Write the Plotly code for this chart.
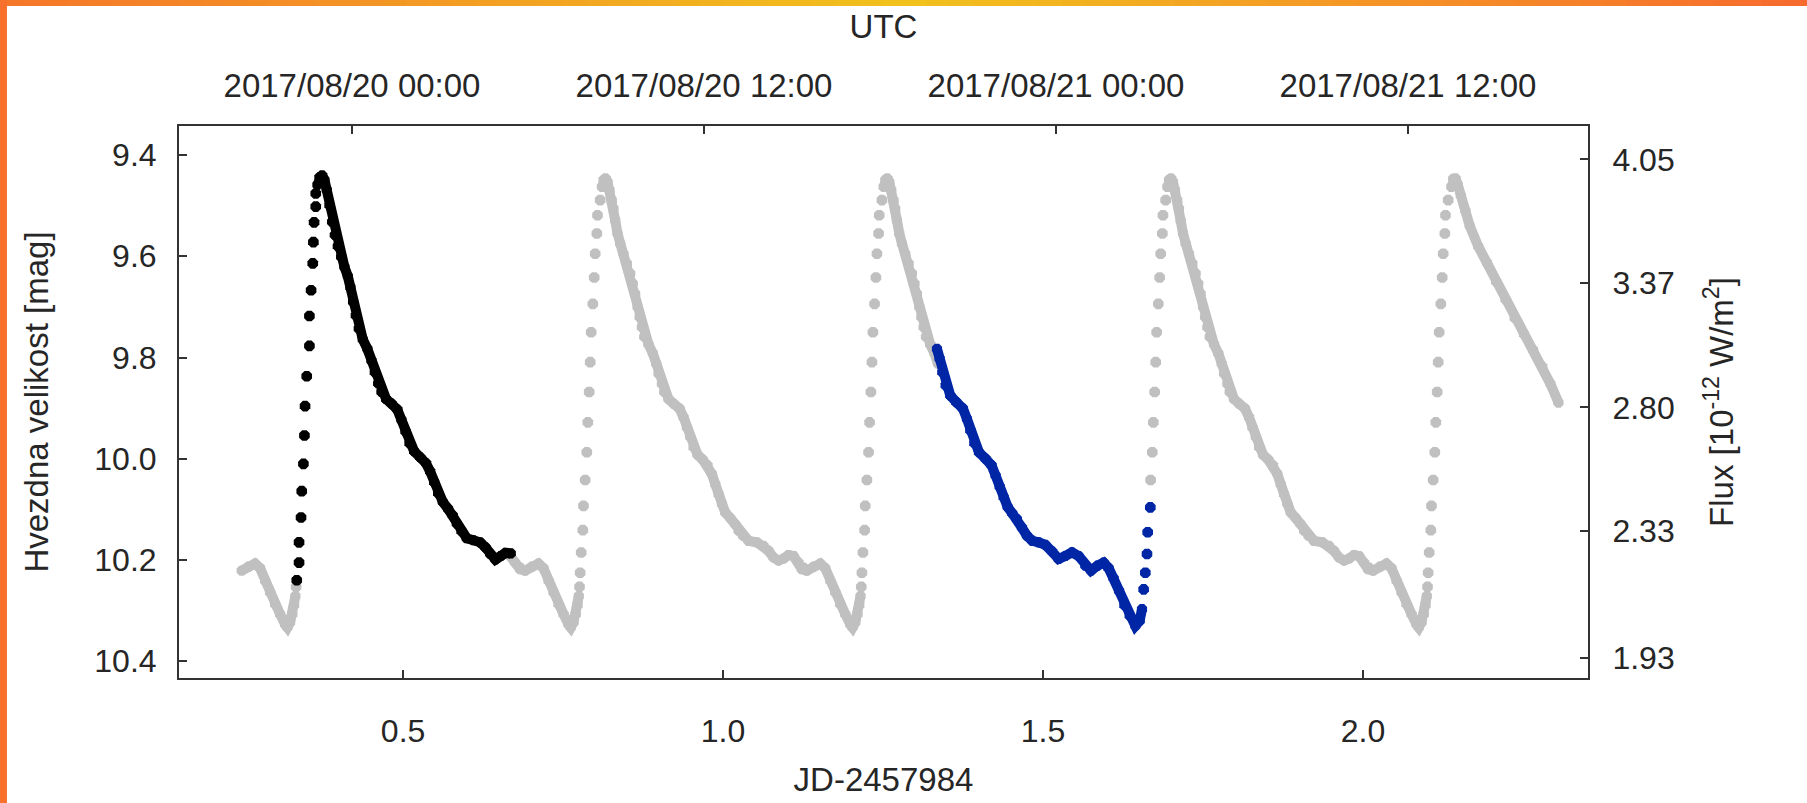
import plotly.graph_objects as go

# ---------------- data ----------------
# One pulsation cycle of the light-curve model, offsets (days) from maximum light
tpl_pre_dt = [-0.1329, -0.1251, -0.1146, -0.1042, -0.0964, -0.0886, -0.0808, -0.0730,
              -0.0651, -0.0573, -0.0537, -0.0495, -0.0459, -0.0432, -0.0412]
tpl_pre_mag = [10.218, 10.221, 10.213, 10.207, 10.216, 10.241, 10.264, 10.287,
               10.307, 10.327, 10.333, 10.323, 10.307, 10.289, 10.271]
tpl_dot_dt = [-0.0401, -0.0391, -0.0375, -0.0349, -0.0339, -0.0313, -0.0287, -0.0271,
              -0.0250, -0.0234, -0.0219, -0.0193, -0.0172, -0.0156, -0.0130, -0.0120, -0.0078]
tpl_dot_mag = [10.253, 10.225, 10.185, 10.141, 10.093, 10.042, 9.987, 9.928,
               9.868, 9.809, 9.750, 9.694, 9.642, 9.595, 9.555, 9.519, 9.489]
tpl_post_dt = [-0.0052, -0.0026, 0.0005, 0.0036, 0.0068, 0.0104, 0.0130, 0.0156, 0.0193, 0.0234,
               0.0287, 0.0339, 0.0391, 0.0432, 0.0469, 0.0505, 0.0537, 0.0573, 0.0610, 0.0677,
               0.0745, 0.0797, 0.0834, 0.0886, 0.0922, 0.0990, 0.1068, 0.1162, 0.1225, 0.1277,
               0.1329, 0.1381, 0.1443, 0.1527, 0.1600, 0.1667, 0.1720, 0.1772, 0.1824, 0.1876,
               0.1954, 0.2032, 0.2084, 0.2152, 0.2241, 0.2371, 0.2475, 0.2553, 0.2631, 0.2710,
               0.2788, 0.2866, 0.2944, 0.3022, 0.3100]
tpl_post_mag = [9.463, 9.449, 9.446, 9.453, 9.469, 9.489, 9.506, 9.529, 9.555, 9.575,
                9.595, 9.614, 9.634, 9.654, 9.674, 9.700, 9.720, 9.740, 9.759, 9.774,
                9.792, 9.812, 9.832, 9.852, 9.868, 9.882, 9.891, 9.901, 9.918, 9.938,
                9.957, 9.977, 9.992, 10.002, 10.013, 10.030, 10.050, 10.070, 10.089, 10.106,
                10.117, 10.129, 10.142, 10.152, 10.162, 10.165, 10.172, 10.182, 10.195, 10.201,
                10.197, 10.190, 10.192, 10.205, 10.215]
peak_jd = [0.3729, 0.8158, 1.2561, 1.6995, 2.1410]   # maxima of the model curve
model_start = 0.247

# last (partial) decline of the model, after the final maximum
tail_jd = [2.1380, 2.1410, 2.1445, 2.1480, 2.1530, 2.1600, 2.1669, 2.1800, 2.1939, 2.2080,
           2.2227, 2.2370, 2.2516, 2.2660, 2.2803, 2.2930, 2.3055]
tail_mag = [9.463, 9.447, 9.446, 9.458, 9.480, 9.510, 9.540, 9.580, 9.613, 9.650,
            9.685, 9.722, 9.754, 9.785, 9.818, 9.852, 9.889]

# observed night 1 (black)
black_dot_jd = [0.3338, 0.3374, 0.3374, 0.3405, 0.3416, 0.3442, 0.3458, 0.3468, 0.3494,
                0.3536, 0.3536, 0.3562, 0.3588, 0.3598, 0.3609, 0.3635, 0.3635]
black_dot_mag = [10.240, 10.205, 10.165, 10.116, 10.064, 10.010, 9.954, 9.896, 9.837,
                 9.777, 9.718, 9.667, 9.614, 9.572, 9.533, 9.502, 9.476]
black_line_jd = [0.3661, 0.3692, 0.3734, 0.3770, 0.3807, 0.3849, 0.3890, 0.3932, 0.3979, 0.4031,
                 0.4083, 0.4135, 0.4177, 0.4218, 0.4260, 0.4307, 0.4370, 0.4442, 0.4505, 0.4557,
                 0.4610, 0.4661, 0.4734, 0.4818, 0.4911, 0.4974, 0.5036, 0.5099, 0.5172, 0.5266,
                 0.5359, 0.5422, 0.5485, 0.5547, 0.5620, 0.5703, 0.5776, 0.5839, 0.5912, 0.5995,
                 0.6099, 0.6204, 0.6287, 0.6360, 0.6443, 0.6527, 0.6600, 0.6683]
black_line_mag = [9.459, 9.444, 9.440, 9.449, 9.469, 9.499, 9.532, 9.558, 9.580, 9.601,
                  9.621, 9.639, 9.661, 9.690, 9.717, 9.743, 9.764, 9.783, 9.806, 9.829,
                  9.851, 9.868, 9.882, 9.891, 9.903, 9.923, 9.946, 9.969, 9.985, 9.997,
                  10.009, 10.025, 10.046, 10.068, 10.085, 10.099, 10.112, 10.128, 10.143, 10.157,
                  10.161, 10.165, 10.175, 10.188, 10.199, 10.192, 10.186, 10.187]

# observed night 2 (blue)
blue_line_jd = [1.3343, 1.3384, 1.3426, 1.3478, 1.3551, 1.3645, 1.3749, 1.3811, 1.3863, 1.3926,
                1.3999, 1.4103, 1.4197, 1.4259, 1.4322, 1.4385, 1.4447, 1.4520, 1.4593, 1.4671,
                1.4749, 1.4833, 1.4932, 1.5036, 1.5140, 1.5244, 1.5348, 1.5453, 1.5557, 1.5661,
                1.5750, 1.5854, 1.5948, 1.6026, 1.6104, 1.6188, 1.6271, 1.6354, 1.6443, 1.6511,
                1.6547]
blue_line_mag = [9.783, 9.802, 9.829, 9.855, 9.875, 9.888, 9.901, 9.921, 9.944, 9.969,
                 9.987, 10.000, 10.013, 10.033, 10.055, 10.076, 10.095, 10.108, 10.119, 10.136,
                 10.152, 10.162, 10.165, 10.170, 10.183, 10.198, 10.192, 10.185, 10.192, 10.211,
                 10.221, 10.211, 10.205, 10.216, 10.236, 10.261, 10.289, 10.310, 10.330, 10.320,
                 10.297]
blue_dot_jd = [1.6573, 1.6599, 1.6625, 1.6636, 1.6677]
blue_dot_mag = [10.258, 10.225, 10.188, 10.145, 10.096]

# axes
x_ticks = [0.5, 1.0, 1.5, 2.0]
x_ticklabels = ['0.5', '1.0', '1.5', '2.0']
mag_ticks = [9.4, 9.6, 9.8, 10.0, 10.2, 10.4]
mag_ticklabels = ['9.4', '9.6', '9.8', '10.0', '10.2', '10.4']
flux_ticks = [4.05, 3.37, 2.80, 2.33, 1.93]
flux_ticklabels = ['4.05', '3.37', '2.80', '2.33', '1.93']
utc_first_tick = '2017-08-20 00:00'

# ---------------- build model (gray) curve ----------------
excl = [(min(black_line_jd + black_dot_jd), max(black_line_jd + black_dot_jd)),
        (min(blue_line_jd + blue_dot_jd), max(blue_line_jd + blue_dot_jd))]


def in_model(x):
    return x >= model_start


def in_excl(x):
    return any(a <= x <= b for a, b in excl)


segs = [[(peak_jd[0] + d, m) for d, m in zip(tpl_pre_dt, tpl_pre_mag)]]
for k, p in enumerate(peak_jd):
    if k + 1 < len(peak_jd):
        seg = [(p + d, m) for d, m in zip(tpl_post_dt, tpl_post_mag)]
        q = peak_jd[k + 1]
        seg += [(q + d, m) for d, m in zip(tpl_pre_dt, tpl_pre_mag)]
    else:
        seg = list(zip(tail_jd, tail_mag))
    segs.append(seg)

gray_x, gray_y = [], []
for seg in segs:
    n = len(seg)
    ok = [in_model(x) and not in_excl(x) for x, _ in seg]
    keep = [ok[i] or (in_model(seg[i][0]) and ((i > 0 and ok[i - 1]) or (i < n - 1 and ok[i + 1])))
            for i in range(n)]
    prev = False
    for i, (x, m) in enumerate(seg):
        if keep[i]:
            gray_x.append(x)
            gray_y.append(m)
        elif prev:
            gray_x.append(None)
            gray_y.append(None)
        prev = keep[i]
    gray_x.append(None)
    gray_y.append(None)

gdot_x, gdot_y = [], []
for p in peak_jd:
    for d, m in zip(tpl_dot_dt, tpl_dot_mag):
        x = p + d
        if in_model(x) and not in_excl(x):
            gdot_x.append(x)
            gdot_y.append(m)

# ---------------- figure ----------------
GRAY = '#c0c0c0'
BLACK = '#000000'
BLUE = '#0026a6'
LW = 10


def line_trace(x, y, color):
    return go.Scatter(x=x, y=y, mode='lines+markers', line=dict(color=color, width=LW),
                      marker=dict(symbol='octagon', size=11, color=color, line=dict(width=0)),
                      hoverinfo='skip', showlegend=False, connectgaps=False)


def dot_trace(x, y, color):
    return go.Scatter(x=x, y=y, mode='markers',
                      marker=dict(symbol='octagon', size=11.5, color=color, line=dict(width=0)),
                      hoverinfo='skip', showlegend=False)


fig = go.Figure()
fig.add_trace(line_trace(gray_x, gray_y, GRAY))
fig.add_trace(dot_trace(gdot_x, gdot_y, GRAY))
fig.add_trace(line_trace(black_line_jd, black_line_mag, BLACK))
fig.add_trace(dot_trace(black_dot_jd, black_dot_mag, BLACK))
fig.add_trace(line_trace(blue_line_jd, blue_line_mag, BLUE))
fig.add_trace(dot_trace(blue_dot_jd, blue_dot_mag, BLUE))
# anchors for secondary axes
fig.add_trace(go.Scatter(x=[utc_first_tick], y=[None], xaxis='x2', yaxis='y', mode='markers',
                         hoverinfo='skip', showlegend=False))
fig.add_trace(go.Scatter(x=[None], y=[flux_ticks[0]], xaxis='x', yaxis='y2', mode='markers',
                         hoverinfo='skip', showlegend=False))

FONT = 'Liberation Sans, Arial, sans-serif'
TXT = '#262626'
AX = '#333333'
TF = 32

common = dict(showline=True, linecolor=AX, linewidth=2, ticks='inside', ticklen=8, tickwidth=1.5,
              tickcolor=AX, showgrid=False, zeroline=False, tickfont=dict(size=TF, color=TXT))

fig.update_layout(
    width=1807, height=803,
    margin=dict(l=179, r=219, t=126, b=125, pad=0),
    paper_bgcolor='white', plot_bgcolor='white',
    font=dict(family=FONT, color=TXT, size=TF),
    showlegend=False,
    xaxis=dict(range=[0.1498, 2.3517], tickmode='array', tickvals=x_ticks, ticktext=x_ticklabels,
               title=dict(text='JD-2457984', font=dict(size=33), standoff=19),
               ticklabelstandoff=24, **common),
    xaxis2=dict(type='date', overlaying='x', side='top', anchor='y',
                range=['2017-08-19 18:06:07', '2017-08-21 18:08:10'],
                tick0=utc_first_tick, dtick=43200000, tickformat='%Y/%m/%d %H:%M',
                title=dict(text='UTC', font=dict(size=33), standoff=18),
                ticklabelstandoff=14, **{**common, 'tickfont': dict(size=33, color=TXT)}),
    yaxis=dict(range=[10.433, 9.3427], tickmode='array', tickvals=mag_ticks, ticktext=mag_ticklabels,
               title=dict(text='Hvezdna velikost [mag]', font=dict(size=33), standoff=36),
               ticklabelstandoff=14, **common),
    yaxis2=dict(type='log', overlaying='y', side='right', anchor='x',
                range=[0.272371, 0.628980], tickmode='array', tickvals=flux_ticks,
                ticktext=flux_ticklabels,
                title=dict(text='Flux [10<sup>-12</sup> W/m<sup>2</sup>]', font=dict(size=33), standoff=36),
                ticklabelstandoff=16, **common),
)

# decorative orange frame (top gradient bar and left bar)
stops = [(0.0, (245, 118, 42)), (0.5, (241, 194, 28)), (1.0, (247, 106, 46))]


def grad(t):
    for (t0, c0), (t1, c1) in zip(stops[:-1], stops[1:]):
        if t0 <= t <= t1:
            f = (t - t0) / (t1 - t0)
            return 'rgb(%d,%d,%d)' % tuple(round(a + (b - a) * f) for a, b in zip(c0, c1))
    return 'rgb(%d,%d,%d)' % stops[-1][1]


xl, xr = -0.1271, 1.1555
nseg = 80
shapes = []
for i in range(nseg):
    a = xl + (xr - xl) * i / nseg
    b = xl + (xr - xl) * (i + 1) / nseg + 0.001
    shapes.append(dict(type='rect', xref='paper', yref='paper', x0=a, x1=b, y0=1.2174, y1=1.24,
                       fillcolor=grad((i + 0.5) / nseg), line=dict(width=0), layer='above'))
shapes.append(dict(type='rect', xref='paper', yref='paper', x0=-0.135, x1=-0.1221, y0=-0.24, y1=1.24,
                   fillcolor='rgb(247,112,44)', line=dict(width=0), layer='above'))
fig.update_layout(shapes=shapes)

fig.write_html("out.html", config={'displayModeBar': False},
               post_script="document.body.style.margin='0';document.body.style.overflow='hidden';")
